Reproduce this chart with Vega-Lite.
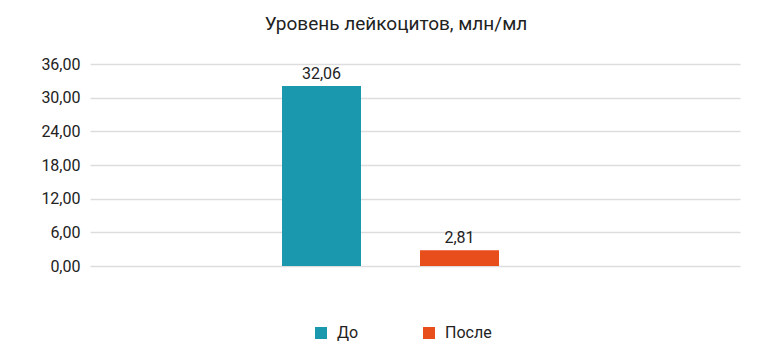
{
  "$schema": "https://vega.github.io/schema/vega-lite/v6.json",
  "width": 650,
  "height": 202,
  "autosize": {"type": "none"},
  "padding": {"left": 90, "top": 64, "right": 40, "bottom": 90},
  "background": "white",
  "config": {
    "locale": {"number": {"decimal": ",", "thousands": " ", "grouping": [3], "currency": ["", ""]}},
    "font": "Roboto",
    "view": {"stroke": null}
  },
  "title": {
    "text": "Уровень лейкоцитов, млн/мл",
    "font": "Roboto",
    "fontSize": 19,
    "fontWeight": "normal",
    "color": "#222222",
    "anchor": "middle",
    "dx": -19,
    "offset": 22
  },
  "data": {
    "values": [
      {"series": "До", "value": 32.06},
      {"series": "После", "value": 2.81}
    ]
  },
  "encoding": {
    "x": {
      "field": "series",
      "type": "nominal",
      "scale": {"domain": ["_0", "До", "После", "_3"], "paddingInner": 0.4275, "paddingOuter": 0.569, "align": 0.344},
      "axis": null
    },
    "y": {
      "field": "value",
      "type": "quantitative",
      "scale": {"domain": [0, 36], "nice": false},
      "axis": {
        "title": null,
        "values": [0, 6, 12, 18, 24, 30, 36],
        "format": ".2f",
        "domain": false,
        "ticks": false,
        "labelPadding": 10,
        "labelFont": "Roboto",
        "labelFontSize": 16,
        "labelColor": "#222222",
        "gridColor": "#dddddd",
        "gridWidth": 1.5
      }
    }
  },
  "layer": [
    {
      "mark": {"type": "bar"},
      "encoding": {
        "color": {
          "field": "series",
          "type": "nominal",
          "sort": ["До", "После"],
          "scale": {"domain": ["До", "После"], "range": ["#1a98ae", "#e84e1c"]},
          "legend": {
            "title": null,
            "orient": "none",
            "legendX": 223,
            "legendY": 261,
            "direction": "horizontal",
            "symbolType": "square",
            "symbolSize": 144,
            "symbolStrokeWidth": 0,
            "labelFont": "Roboto",
            "labelFontSize": 16,
            "labelColor": "#222222",
            "labelOffset": 8,
            "columnPadding": 62,
            "labelExpr": "datum.label == 'После' ? '\u2002\u2002' + datum.label : datum.label"
          }
        }
      }
    },
    {
      "mark": {"type": "text", "dy": -7, "baseline": "alphabetic", "font": "Roboto", "fontSize": 16, "color": "#222222"},
      "encoding": {
        "text": {"field": "value", "type": "quantitative", "format": ".2f"}
      }
    }
  ]
}
